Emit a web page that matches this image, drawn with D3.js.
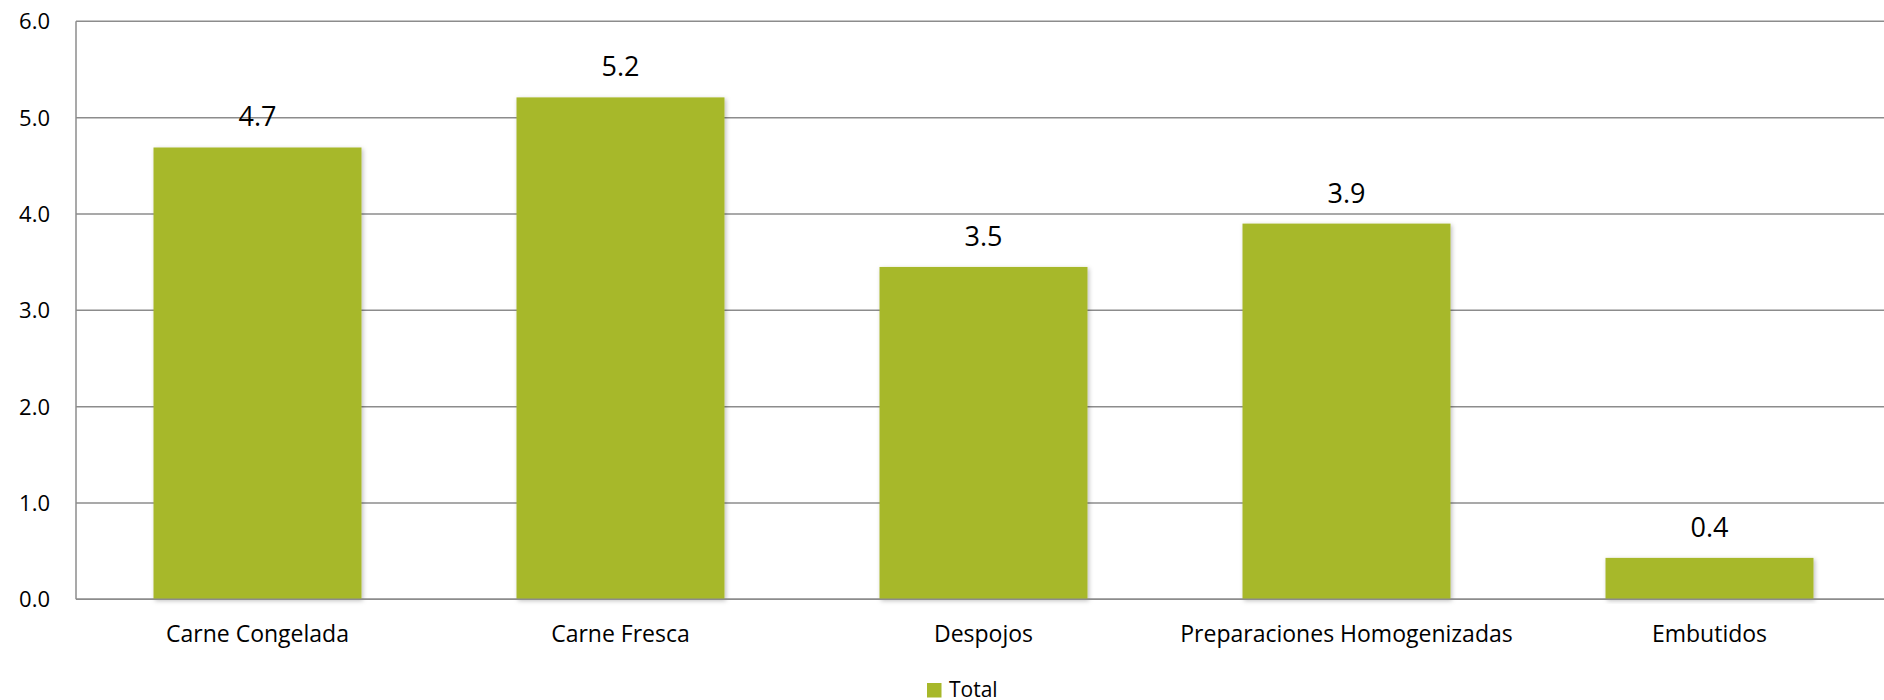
<!DOCTYPE html>
<html><head><meta charset="utf-8">
<script src="https://cdn.jsdelivr.net/npm/d3@7"></script>
<style>body{margin:0;background:#fff;} svg{display:block;font-family:"Open Sans",sans-serif;}</style>
</head><body>
<svg id="c" width="1884" height="700"></svg>
<script>
const categories = ["Carne Congelada","Carne Fresca","Despojos","Preparaciones Homogenizadas","Embutidos"];
const values = [4.69, 5.21, 3.45, 3.90, 0.43];
const valueLabels = ["4.7","5.2","3.5","3.9","0.4"];
const yTicks = [0,1,2,3,4,5,6];
const seriesName = "Total";

const svg = d3.select("#c");
const m = {left:76, right:-7, top:21.3, bottom:100.7};
const W = 1884, H = 700;
const x = d3.scaleBand().domain(categories).range([m.left, W - m.right]).paddingInner(0.427).paddingOuter(0.2135);
const y = d3.scaleLinear().domain([0,6]).range([H - m.bottom, m.top]);
const color = "#A7B82A";

const defs = svg.append("defs");
const f = defs.append("filter").attr("id","sh").attr("x","-10%").attr("y","-10%").attr("width","120%").attr("height","120%");
f.append("feDropShadow").attr("dx",1.5).attr("dy",1.5).attr("stdDeviation",2).attr("flood-color","#000").attr("flood-opacity",0.25);

// gridlines
svg.append("g").selectAll("line").data(yTicks).join("line")
  .attr("x1", m.left).attr("x2", W).attr("y1", d=>y(d)).attr("y2", d=>y(d))
  .attr("stroke","#8c8c8c").attr("stroke-width",1.5);
// left axis line
svg.append("line").attr("x1",m.left).attr("x2",m.left).attr("y1",y(6)).attr("y2",y(0))
  .attr("stroke","#8c8c8c").attr("stroke-width",1.5);

// tick labels
svg.append("g").selectAll("text").data(yTicks).join("text")
  .attr("x", 50).attr("y", d=>y(d)).attr("dy","0.36em").attr("text-anchor","end")
  .attr("font-size",22).attr("fill","#000").text(d=>d3.format(".1f")(d));

// bars
svg.append("g").selectAll("rect").data(values).join("rect")
  .attr("x",(d,i)=>x(categories[i])).attr("width",x.bandwidth())
  .attr("y",d=>y(d)).attr("height",d=>y(0)-y(d))
  .attr("fill",color).attr("filter","url(#sh)");

// baseline on top
svg.append("line").attr("x1",m.left).attr("x2",W).attr("y1",y(0)).attr("y2",y(0))
  .attr("stroke","#8c8c8c").attr("stroke-width",1.5);

// value labels
svg.append("g").selectAll("text").data(values).join("text")
  .attr("x",(d,i)=>x(categories[i])+x.bandwidth()/2).attr("y",d=>y(d)-21)
  .attr("text-anchor","middle").attr("font-size",27).attr("fill","#000")
  .text((d,i)=>valueLabels[i]);

// category labels
svg.append("g").selectAll("text").data(categories).join("text")
  .attr("x",d=>x(d)+x.bandwidth()/2).attr("y",642)
  .attr("text-anchor","middle").attr("font-size",23).attr("fill","#000").text(d=>d);

// legend
const lg = svg.append("g").attr("transform","translate(927,683)");
lg.append("rect").attr("width",14.5).attr("height",14.5).attr("fill",color);
lg.append("text").attr("x",22).attr("y",13.5).attr("font-size",21).attr("fill","#000").text(seriesName);
</script>
</body></html>
